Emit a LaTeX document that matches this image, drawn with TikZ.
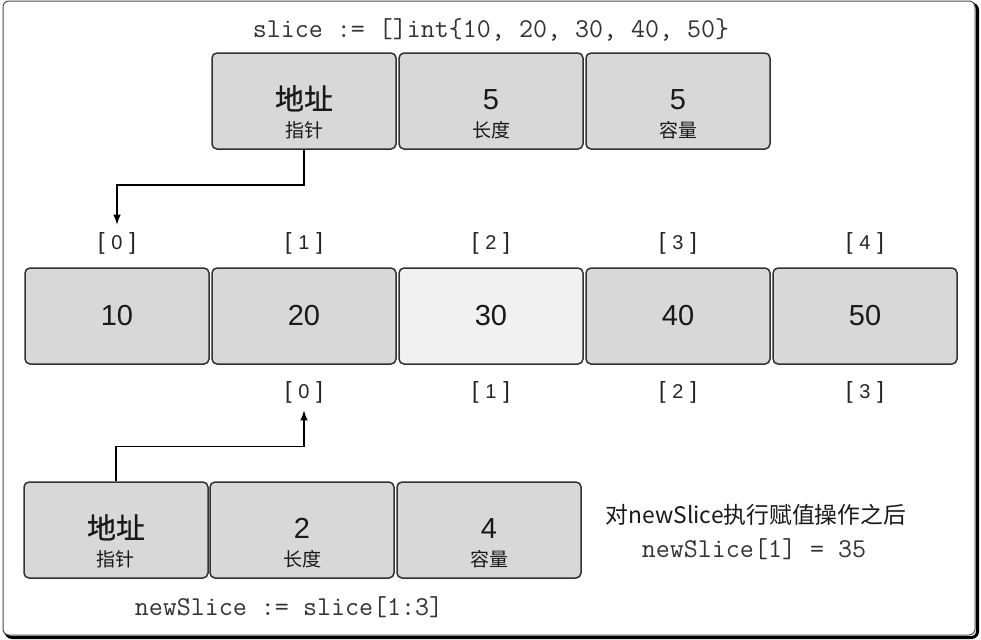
\documentclass[tikz,border=0pt]{standalone}
\usepackage{fontspec}
\setmainfont{Liberation Sans}
\newfontfamily\cjk{Noto Sans CJK SC}
\newfontfamily\cjkbold[FakeBold=0.7]{Noto Sans CJK SC}
\definecolor{cellgray}{RGB}{216,216,216}
\definecolor{celllight}{RGB}{241,241,241}
\definecolor{edgegray}{RGB}{50,50,50}
\newcommand\twoline[2]{\makebox[0pt]{\raisebox{13.7pt}{\fontsize{14.5}{16}\selectfont #1}}%
  \makebox[0pt]{\fontsize{9.5}{11}\selectfont #2}}
\newcommand\slot[1]{[\hspace{3.4pt}{\fontsize{10}{11}\selectfont #1}\hspace{3.4pt}]}
\tikzset{
  cell/.style={draw=edgegray, line width=0.75pt, fill=cellgray, rounded corners=2.5pt,
    minimum width=92pt, minimum height=48pt, inner sep=0pt, text=black!90,
    font=\fontsize{14.5}{16}\selectfont},
  hdr/.style={cell, text height=36pt, text depth=0pt},
  idx/.style={font=\fontsize{11.7}{13}\selectfont, text=black!85},
  code/.style={font=\ttfamily\fontsize{13.6}{15}\selectfont, text=black!80},
}

\begin{document}
\begin{tikzpicture}[x=0.5pt, y=-0.5pt, >=latex, line width=0.75pt]
  \useasboundingbox (0,0) rectangle (981,639);
  % frame with a dark edge right and below
  \draw[black, line width=1.5pt, rounded corners=3pt] (6,4) rectangle (977.5,637.5);
  \draw[gray!60!black, fill=white, line width=0.5pt, rounded corners=3pt] (3,1) rectangle (975,635);
  % slice header
  \node[code] (decl) at (491,30) {slice := []int\{10, 20, 30, 40, 50\}};
  \node[hdr] (ptr) at (304,101) {\twoline{\cjkbold 地址}{\cjk 指针}};
  \node[hdr] (len) at (491,101) {\twoline{5}{\cjk 长度}};
  \node[hdr] (cap) at (678,101) {\twoline{5}{\cjk 容量}};
  % backing array
  \foreach \v/\c [count=\i from 0] in {10/cellgray,20/cellgray,30/celllight,40/cellgray,50/cellgray} {
    \node[cell, fill=\c] (a\i) at (117+187*\i,316) {\v};
    \node[idx] (i\i) at (117+187*\i,243) {\slot{\i}};
  }
  \foreach \k in {0,...,3}
    \node[idx] (j\k) at (304+187*\k,392) {\slot{\k}};
  % newSlice header
  \node[hdr] (nptr) at (116,530) {\twoline{\cjkbold 地址}{\cjk 指针}};
  \node[hdr] (nlen) at (302,530) {\twoline{2}{\cjk 长度}};
  \node[hdr] (ncap) at (489,530) {\twoline{4}{\cjk 容量}};
  \node[code] (nsl) at (289,607) {newSlice := slice[1:3]};
  \node[font=\cjk\fontsize{11.4}{13}\selectfont, text=black!90] (note) at (756,515) {对newSlice执行赋值操作之后};
  \node[code] (asg) at (754,549) {newSlice[1] = 35};
  % pointers
  \draw[->] (ptr.south) -- ++(0,35) -| (i0.north);
  \draw[->] (nptr.north) -- ++(0,-35) -| (j0.south);
\end{tikzpicture}
\end{document}
